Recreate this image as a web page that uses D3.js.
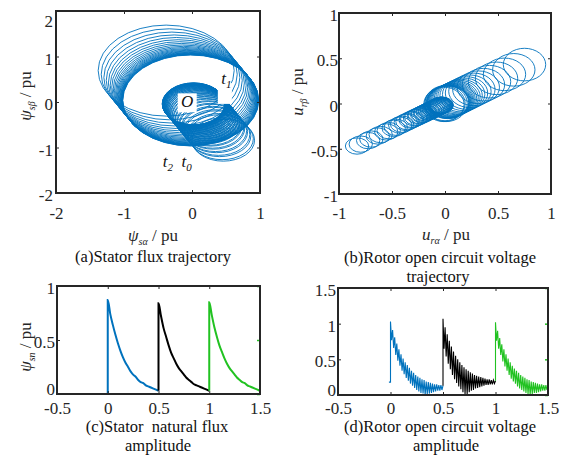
<!DOCTYPE html>
<html><head><meta charset="utf-8">
<script src="https://cdn.jsdelivr.net/npm/d3@7"></script>
<style>
body{margin:0;background:#fff;}
svg{display:block;font-family:"Liberation Serif","Times New Roman",serif;}
</style></head><body>
<svg id="fig" width="568" height="455"></svg>
<script>
// ---------- (a) stator flux trajectory: ring centres / radii (pu) ----------
const bigCx = [-0.38,-0.335,-0.296,-0.261,-0.230,-0.203,-0.180,-0.158,-0.140,-0.123,-0.109,-0.096,-0.085,-0.075,-0.066,-0.058,-0.051,-0.045,-0.040,-0.035,-0.031,-0.028,-0.024,-0.021,-0.019];
const bigCy = [0.69,0.609,0.537,0.474,0.418,0.369,0.326,0.288,0.254,0.224,0.198,0.174,0.154,0.136,0.120,0.106,0.093,0.082,0.073,0.064,0.057,0.050,0.044,0.039,0.034];
const bigR = 1.0;
const smallCx = [0.46,0.406,0.358,0.316,0.279,0.246,0.217,0.192,0.169,0.149,0.132,0.116,0.103,0.091,0.080,0.071,0.062,0.055,0.048,0.043,0.038,0.033,0.029,0.026,0.023];
const smallCy = [-0.84,-0.741,-0.654,-0.577,-0.509,-0.450,-0.397,-0.350,-0.309,-0.273,-0.241,-0.212,-0.187,-0.165,-0.146,-0.129,-0.114,-0.100,-0.089,-0.078,-0.069,-0.061,-0.054,-0.047,-0.042];
const small2Cx = [0.442,0.390,0.344,0.303,0.268,0.236,0.209,0.184,0.162,0.143,0.127,0.112,0.099,0.087,0.077,0.068,0.060,0.053,0.047,0.041,0.036,0.032,0.028,0.025,0.022];
const small2Cy = [-0.808,-0.713,-0.629,-0.555,-0.490,-0.432,-0.382,-0.337,-0.297,-0.262,-0.232,-0.204,-0.180,-0.159,-0.140,-0.124,-0.109,-0.096,-0.085,-0.075,-0.066,-0.058,-0.052,-0.046,-0.040];
const smallR = 0.46;
const aTicksX = [-2,-1,0,1];
const aTicksY = [-2,-1,0,1,2];

// ---------- (b) rotor open-circuit voltage trajectory ----------
const trCx = [0.75,0.649,0.561,0.486,0.420,0.363,0.314,0.272,0.235,0.203,0.176,0.152,0.132,0.114,0.099,0.085,0.074,0.064,0.055,0.048,0.041,0.036,0.031,0.027,0.023];
const trCy = [0.43,0.372,0.322,0.278,0.241,0.208,0.180,0.156,0.135,0.116,0.101,0.087,0.076,0.065,0.057,0.049,0.042,0.037,0.032,0.027,0.024,0.021,0.018,0.015,0.013];
const trRx = 0.20, trRy = 0.18;
const llCx = [-0.83,-0.725,-0.634,-0.554,-0.484,-0.423,-0.370,-0.323,-0.283,-0.247,-0.216,-0.189,-0.165,-0.144,-0.126,-0.110,-0.096,-0.084,-0.074,-0.064,-0.056,-0.049,-0.043,-0.038,-0.033];
const llCy = [-0.47,-0.410,-0.359,-0.314,-0.274,-0.239,-0.209,-0.183,-0.160,-0.140,-0.122,-0.107,-0.093,-0.082,-0.071,-0.062,-0.054,-0.048,-0.042,-0.036,-0.032,-0.028,-0.024,-0.021,-0.019];
const ll2Cx = [-0.795,-0.695,-0.607,-0.531,-0.464,-0.405,-0.354,-0.310,-0.271,-0.236,-0.207,-0.181,-0.158,-0.138,-0.121,-0.105,-0.092,-0.080,-0.070,-0.062,-0.054,-0.047,-0.041,-0.036,-0.031];
const ll2Cy = [-0.449,-0.393,-0.343,-0.300,-0.262,-0.229,-0.200,-0.175,-0.153,-0.133,-0.117,-0.102,-0.089,-0.078,-0.068,-0.059,-0.052,-0.045,-0.040,-0.035,-0.031,-0.027,-0.023,-0.020,-0.018];
const llRx = 0.11, llRy = 0.09;
const ssCx = [0.0,0.01,-0.01];
const ssCy = [0.0,0.0,-0.01];
const ssR = [0.19,0.20,0.19];
const bTicks = [-1,-0.5,0,0.5,1];

// ---------- (c) stator natural flux amplitude ----------
const fluxTime = [0,0.025,0.05,0.075,0.1,0.125,0.15,0.175,0.2,0.225,0.25,0.275,0.3,0.325,0.35,0.375,0.4,0.425,0.45,0.475,0.5];
const fluxStart = [0, 0.5, 1.0];
const fluxLead = [[[-0.01,0],[0,0]], [[0.5,0.03]], [[1.0,0.03]]];
const fluxBlue  = [0.87,0.74,0.64,0.55,0.47,0.40,0.34,0.29,0.25,0.21,0.18,0.16,0.13,0.11,0.10,0.08,0.07,0.06,0.05,0.04,0.03];
const fluxBlack = [0.84,0.72,0.61,0.53,0.45,0.38,0.33,0.28,0.24,0.21,0.18,0.15,0.13,0.11,0.09,0.08,0.07,0.06,0.05,0.04,0.03];
const fluxGreen = [0.85,0.73,0.62,0.53,0.45,0.39,0.33,0.28,0.24,0.21,0.18,0.15,0.13,0.11,0.10,0.08,0.07,0.06,0.05,0.04,0.03];
const cTicksX = [-0.5,0,0.5,1,1.5];
const cTicksY = [0,0.5,1];

// ---------- (d) rotor open-circuit voltage amplitude ----------
const voltTime = [0,0.01,0.02,0.03,0.04,0.05,0.06,0.07,0.08,0.09,0.1,0.11,0.12,0.13,0.14,0.15,0.16,0.17,0.18,0.19,0.2,0.21,0.22,0.23,0.24,0.25,0.26,0.27,0.28,0.29,0.3,0.31,0.32,0.33,0.34,0.35,0.36,0.37,0.38,0.39,0.4,0.41,0.42,0.43,0.44,0.45,0.46,0.47,0.48,0.49,0.5];
const voltStart = [0, 0.5, 1.0];
const voltLead = [[[-0.015,0.18],[0,0.18]], [[0.5,0.13]], [[1.0,0.20]]];
const voltBlue  = [1.03,0.77,0.91,0.66,0.81,0.56,0.72,0.48,0.64,0.41,0.57,0.34,0.51,0.29,0.46,0.24,0.42,0.20,0.38,0.16,0.34,0.13,0.31,0.10,0.28,0.07,0.26,0.05,0.24,0.03,0.22,0.02,0.21,0.00,0.19,0.01,0.18,0.02,0.17,0.03,0.16,0.04,0.15,0.05,0.15,0.06,0.14,0.06,0.14,0.07,0.13];
const voltBlack = [1.07,0.65,0.95,0.54,0.85,0.44,0.76,0.36,0.68,0.28,0.61,0.22,0.55,0.17,0.50,0.12,0.46,0.08,0.42,0.04,0.39,0.01,0.36,0.01,0.34,0.04,0.32,0.06,0.30,0.07,0.28,0.09,0.27,0.10,0.26,0.11,0.25,0.12,0.24,0.13,0.23,0.14,0.22,0.14,0.22,0.15,0.21,0.15,0.21,0.16,0.20];
const voltGreen = [1.02,0.76,0.90,0.65,0.80,0.56,0.71,0.47,0.64,0.40,0.57,0.34,0.51,0.28,0.46,0.23,0.41,0.19,0.37,0.16,0.34,0.12,0.31,0.09,0.28,0.07,0.26,0.05,0.24,0.03,0.22,0.01,0.21,0.00,0.19,0.01,0.18,0.03,0.17,0.03,0.16,0.04,0.15,0.05,0.15,0.06,0.14,0.06,0.14,0.07,0.13];
const dTicksY = [0,0.5,1,1.5];

const BLUE = "#0072BD", BLACK = "#000000", GREEN = "#21c221";
const svg = d3.select("#fig");
const fmt = d => String(d);

function panel(id, px, xd, yd, xt, yt, o) {
  const x = d3.scaleLinear().domain(xd).range([px[0], px[1]]);
  const y = d3.scaleLinear().domain(yd).range([px[2], px[3]]);
  const g = svg.append("g");
  g.append("clipPath").attr("id", "clip" + id).append("rect")
    .attr("x", px[0]).attr("y", px[3]).attr("width", px[1]-px[0]).attr("height", px[2]-px[3]);
  const plot = g.append("g").attr("clip-path", `url(#clip${id})`);
  const ax = g.append("g");
  ax.append("g").attr("transform", `translate(0,${px[2]})`)
    .call(d3.axisBottom(x).tickValues(xt).tickFormat(fmt).tickSize(-3).tickPadding(o.xpad));
  const left = ax.append("g").attr("transform", `translate(${px[0]},0)`)
    .call(d3.axisLeft(y).tickValues(yt).tickFormat(fmt).tickSize(-3).tickPadding(o.ypad));
  ax.append("g").attr("transform", `translate(0,${px[3]})`)
    .call(d3.axisTop(x).tickValues(xt).tickFormat("").tickSize(-3));
  const right = ax.append("g").attr("transform", `translate(${px[1]},0)`)
    .call(d3.axisRight(y).tickValues(yt).tickFormat("").tickSize(-3));
  ax.selectAll(".domain").remove();
  ax.selectAll(".tick line").attr("stroke", "#262626").attr("stroke-width", 1);
  if (o.rightTick) right.selectAll(".tick line").attr("stroke", o.rightTick).attr("stroke-width", 1.5);
  ax.selectAll("text").attr("font-family", "Liberation Serif").attr("font-size", 17).attr("fill", "#262626");
  left.selectAll("text").attr("dy", "0.45em");
  if (o.topShift) left.selectAll(".tick text").filter(d => d === yd[1]).attr("dy", o.topShift);
  if (o.bottomShift) left.selectAll(".tick text").filter(d => d === yd[0]).attr("dy", o.bottomShift);
  g.append("rect").attr("x", px[0]).attr("y", px[3]).attr("width", px[1]-px[0]).attr("height", px[2]-px[3])
    .attr("fill", "none").attr("stroke", "#262626").attr("stroke-width", 2);
  return {x, y, plot, g};
}

function rings(p, cx, cy, rx, ry, color, w) {
  const gx = i => Array.isArray(rx) ? rx[i] : rx;
  const gy = i => Array.isArray(ry) ? ry[i] : ry;
  p.plot.append("g").selectAll("ellipse").data(d3.range(cx.length)).join("ellipse")
    .attr("cx", i => p.x(cx[i])).attr("cy", i => p.y(cy[i]))
    .attr("rx", i => p.x(gx(i)) - p.x(0))
    .attr("ry", i => p.y(0) - p.y(gy(i)))
    .attr("fill", "none").attr("stroke", color).attr("stroke-width", w);
}

function label(parent, x, y, parts, rot) {
  const t = parent.append("text").attr("text-anchor", "middle").attr("font-size", 17).attr("fill", "#262626")
    .attr("transform", rot ? `translate(${x},${y}) rotate(-90)` : `translate(${x},${y})`);
  parts.forEach(pt => {
    const s = t.append("tspan").text(pt.t);
    if (pt.it) s.attr("font-style", "italic");
    if (pt.fs) s.attr("font-size", pt.fs);
    if (pt.dy) s.attr("dy", pt.dy);
  });
  return t;
}
function title(x, y, s) {
  svg.append("text").attr("x", x).attr("y", y).attr("text-anchor", "middle")
    .attr("font-size", 16.5).attr("fill", "#111").text(s);
}

// ---- panel a ----
const pa = panel("a", [56,260,193,11], [-2,1], [-2,2], aTicksX, aTicksY, {xpad:14, ypad:3, topShift:"0.9em"});
rings(pa, bigCx, bigCy, bigR, bigR, BLUE, 0.9);
rings(pa, smallCx, smallCy, smallR, smallR, BLUE, 0.9);
rings(pa, small2Cx, small2Cy, smallR, smallR, BLUE, 0.9);
pa.plot.append("rect").attr("x", pa.x(-0.21)).attr("y", pa.y(0.19)).attr("width", 19).attr("height", 19).attr("fill", "#fff");
pa.plot.append("text").attr("x", pa.x(-0.07)).attr("y", pa.y(-0.12)).attr("text-anchor", "middle")
  .attr("font-size", 17).attr("font-style", "italic").attr("fill", "#111").text("O");
pa.plot.append("rect").attr("x", pa.x(0.38)).attr("y", pa.y(0.42)).attr("width", 14).attr("height", 21).attr("fill", "#fff");
const t1 = pa.plot.append("text").attr("x", pa.x(0.43)).attr("y", pa.y(0.40)).attr("font-size", 17).attr("font-style", "italic").attr("fill", "#111");
t1.append("tspan").text("t"); t1.append("tspan").attr("font-size", 11).attr("dy", 4).text("1");
const t20 = pa.plot.append("text").attr("x", pa.x(-0.43)).attr("y", pa.y(-1.43)).attr("font-size", 17).attr("font-style", "italic").attr("fill", "#111");
t20.append("tspan").text("t"); t20.append("tspan").attr("font-size", 11).attr("dy", 4).text("2");
t20.append("tspan").attr("dy", -4).text("\u00a0\u00a0t"); t20.append("tspan").attr("font-size", 11).attr("dy", 4).text("0");
label(svg, 153, 241, [{t:"ψ", it:1}, {t:"sα", it:1, fs:10, dy:4}, {t:" / pu", dy:-4}]);
label(svg, 31, 96, [{t:"ψ", it:1}, {t:"sβ", it:1, fs:10, dy:4}, {t:" / pu", dy:-4}], true);
title(153, 262, "(a)Stator flux trajectory");

// ---- panel b ----
const pb = panel("b", [339,551,194,13], [-1,1], [-1,1], bTicks, bTicks, {xpad:13, ypad:1});
rings(pb, trCx, trCy, trRx, trRy, BLUE, 0.9);
rings(pb, llCx, llCy, llRx, llRy, BLUE, 0.9);
rings(pb, ll2Cx, ll2Cy, llRx, llRy, BLUE, 0.9);
rings(pb, ssCx, ssCy, ssR, ssR, BLUE, 0.9);
label(svg, 446, 240, [{t:"u", it:1}, {t:"rα", it:1, fs:10, dy:4}, {t:" / pu", dy:-4}]);
label(svg, 303, 92, [{t:"u", it:1}, {t:"rβ", it:1, fs:10, dy:4}, {t:" / pu", dy:-4}], true);
title(440, 263, "(b)Rotor open circuit voltage");
title(438, 282, "trajectory");

// ---- panel c ----
const pc = panel("c", [57,260,394,286], [-0.5,1.5], [0,1], cTicksX, cTicksY, {xpad:8, ypad:2, rightTick:GREEN, bottomShift:"0.05em"});
const lineGen = d3.line().x(d => pc.x(d[0])).y(d => pc.y(d[1])).curve(d3.curveMonotoneX);
[fluxBlue, fluxBlack, fluxGreen].forEach((vals, k) => {
  const pts = fluxLead[k].concat(fluxTime.map((t, i) => [fluxStart[k] + t, vals[i]]));
  pc.plot.append("path").attr("d", lineGen(pts))
    .attr("fill", "none").attr("stroke", [BLUE, BLACK, GREEN][k]).attr("stroke-width", 2);
});
label(svg, 31, 347, [{t:"ψ", it:1}, {t:"sn", it:1, fs:10, dy:4}, {t:" / pu", dy:-4}], true);
title(157, 432, "(c)Stator\u00a0\u00a0natural flux");
title(158, 451, "amplitude");

// ---- panel d ----
const pd = panel("d", [338,548,395,288], [-0.5,1.5], [0,1.5], cTicksX, dTicksY, {xpad:7, ypad:2, rightTick:GREEN, bottomShift:"0em"});
const lineD = d3.line().x(d => pd.x(d[0])).y(d => pd.y(d[1]));
[voltBlue, voltBlack, voltGreen].forEach((vals, k) => {
  const pts = voltLead[k].concat(voltTime.map((t, i) => [voltStart[k] + t, vals[i]]));
  pd.plot.append("path").attr("d", lineD(pts))
    .attr("fill", "none").attr("stroke", [BLUE, BLACK, GREEN][k]).attr("stroke-width", 1.1);
});
title(440, 432, "(d)Rotor open circuit voltage");
title(446, 451, "amplitude");
</script>
</body></html>
